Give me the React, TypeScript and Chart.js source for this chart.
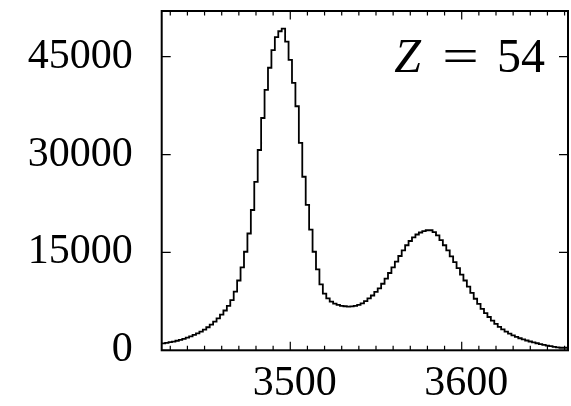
import { useEffect, useRef } from "react";
import { Chart, registerables } from "chart.js";

Chart.register(...registerables);

// Energy histogram: 2-unit bins starting at BIN_START
const BIN_START = 3425;
const BIN_WIDTH = 2;
const X_MIN = 3425;
const X_MAX = 3662;
const Y_MAX = 52000;

// bin centres 3426 … 3468
const countsLeftTail = [
  1000, 1070, 1150, 1240, 1340, 1460, 1600, 1760, 1940, 2140, 2360,
  2600, 2870, 3180, 3530, 3930, 4380, 4900, 5480, 6100, 6820, 7700,
];
// bin centres 3470 … 3522
const countsMainPeak = [
  9000, 10700, 12700, 15100, 17900, 21500, 25800, 30700, 35600, 39900,
  43300, 46000, 48000, 48900, 49300, 47300, 44500, 41000, 37400, 31800,
  26600, 22300, 18500, 15100, 12400, 10100, 8700,
];
// bin centres 3524 … 3598
const countsSecondPeak = [
  7950, 7450, 7150, 6950, 6820, 6750, 6700, 6720, 6800, 6950, 7200,
  7550, 7950, 8400, 8950, 9500, 10200, 11000, 11850, 12700, 13600,
  14450, 15300, 16100, 16750, 17300, 17750, 18050, 18250, 18400, 18400,
  18100, 17600, 16900, 16100, 15300, 14400, 13500,
];
// bin centres 3600 … 3660
const countsRightTail = [
  12600, 11600, 10700, 9750, 8800, 7900, 7100, 6350, 5700, 5100, 4550,
  4050, 3600, 3200, 2850, 2550, 2280, 2050, 1850, 1670, 1500, 1350,
  1210, 1080, 950, 840, 730, 630, 540, 460, 390,
];

const X_MAJOR_TICKS = [3500, 3600];
const X_MINOR_STEP = 10;
const Y_MAJOR_TICKS = [0, 15000, 30000, 45000];
const LABEL_SYMBOL = "Z";
const LABEL_EQUALS = "=";
const LABEL_VALUE = "54";

const FONT = '"Liberation Serif", "Times New Roman", serif';

export default function App() {
  const canvasRef = useRef<HTMLCanvasElement>(null);

  useEffect(() => {
    const canvas = canvasRef.current;
    if (!canvas) return;

    const counts = [
      ...countsLeftTail,
      ...countsMainPeak,
      ...countsSecondPeak,
      ...countsRightTail,
    ];
    const points = counts.map((c, i) => ({ x: BIN_START + i * BIN_WIDTH, y: c }));
    points.push({ x: X_MAX, y: counts[counts.length - 1] });

    const framePlugin = {
      id: "frameAndTicks",
      afterDatasetsDraw(chart: any) {
        const { ctx, chartArea: a, scales } = chart;
        const xs = scales.x;
        const ys = scales.y;
        ctx.save();
        ctx.strokeStyle = "#000";
        ctx.lineWidth = 1.2;
        ctx.beginPath();
        for (let v = Math.ceil(X_MIN / X_MINOR_STEP) * X_MINOR_STEP; v <= X_MAX; v += X_MINOR_STEP) {
          const px = xs.getPixelForValue(v);
          const len = X_MAJOR_TICKS.includes(v) ? 8.5 : 4.5;
          ctx.moveTo(px, a.bottom);
          ctx.lineTo(px, a.bottom - len);
          ctx.moveTo(px, a.top);
          ctx.lineTo(px, a.top + len);
        }
        for (const v of Y_MAJOR_TICKS) {
          const py = ys.getPixelForValue(v);
          ctx.moveTo(a.left, py);
          ctx.lineTo(a.left + 9, py);
          ctx.moveTo(a.right, py);
          ctx.lineTo(a.right - 9, py);
        }
        ctx.stroke();

        ctx.lineWidth = 2;
        ctx.strokeRect(a.left, a.top, a.right - a.left, a.bottom - a.top);

        // "Z = 54" in the upper right corner
        ctx.fillStyle = "#000";
        ctx.textBaseline = "alphabetic";
        const baseY = a.top + 61;
        ctx.font = `48px ${FONT}`;
        ctx.textAlign = "right";
        ctx.fillText(LABEL_VALUE, a.right - 23, baseY);
        ctx.save();
        ctx.translate(a.right - 107.5, baseY);
        ctx.scale(1.35, 1);
        ctx.textAlign = "center";
        ctx.fillText(LABEL_EQUALS, 0, 0);
        ctx.restore();
        ctx.font = `italic 48px ${FONT}`;
        ctx.textAlign = "right";
        ctx.fillText(LABEL_SYMBOL, a.right - 147, baseY);
        ctx.restore();
      },
    };

    const chart = new Chart(canvas, {
      type: "line",
      data: {
        datasets: [
          {
            data: points,
            stepped: "after",
            borderColor: "#000",
            borderWidth: 1.8,
            pointRadius: 0,
            fill: false,
          },
        ],
      },
      options: {
        animation: false,
        responsive: false,
        devicePixelRatio: 1,
        parsing: false,
        layout: { padding: { top: 11, right: 3, left: 0, bottom: 0 } },
        plugins: { legend: { display: false }, tooltip: { enabled: false } },
        scales: {
          x: {
            type: "linear",
            min: X_MIN,
            max: X_MAX,
            grid: { display: false },
            border: { display: false },
            afterBuildTicks: (s: any) => {
              s.ticks = X_MAJOR_TICKS.map((v) => ({ value: v }));
            },
            afterFit: (s: any) => {
              s.height = 55.7;
              s.paddingLeft = 0;
              s.paddingRight = 0;
            },
            ticks: {
              color: "#000",
              font: { family: FONT, size: 42 },
              padding: 0,
              labelOffset: 4.5,
              maxRotation: 0,
              autoSkip: false,
              callback: (v: any) => String(v),
            },
          },
          y: {
            type: "linear",
            min: 0,
            max: Y_MAX,
            grid: { display: false },
            border: { display: false },
            afterBuildTicks: (s: any) => {
              s.ticks = Y_MAJOR_TICKS.map((v) => ({ value: v }));
            },
            afterFit: (s: any) => {
              s.width = 161.7;
              s.paddingTop = 0;
              s.paddingBottom = 0;
            },
            ticks: {
              color: "#000",
              font: { family: FONT, size: 42 },
              padding: 21,
              autoSkip: false,
              callback: (v: any) => String(v),
            },
          },
        },
      },
      plugins: [framePlugin],
    });

    return () => chart.destroy();
  }, []);

  return (
    <div style={{ position: "fixed", left: 0, top: 0, width: 571, height: 406, background: "#fff" }}>
      <canvas ref={canvasRef} width={571} height={406} />
    </div>
  );
}
